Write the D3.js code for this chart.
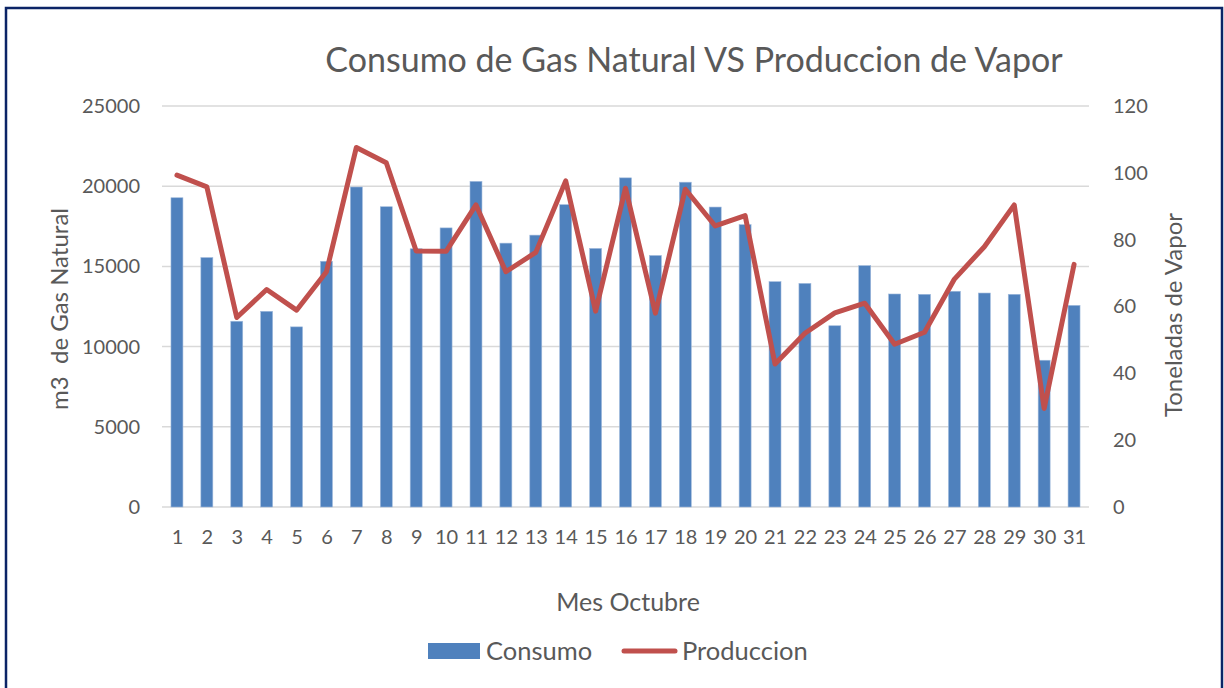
<!DOCTYPE html>
<html><head><meta charset="utf-8">
<script src="https://cdn.jsdelivr.net/npm/d3@7"></script>
<style>
html,body{margin:0;padding:0;background:#fff;}
svg{display:block;font-family:Lato,"Open Sans",sans-serif;}
</style></head>
<body>
<svg id="chart" width="1224" height="688"></svg>
<script>
const days = d3.range(1, 32).map(String);
const consumo = [19280,15550,11580,12200,11230,15320,19950,18720,16100,17400,
  20300,16450,16950,18850,16120,20520,15680,20250,18700,17600,
  14050,13940,11300,15050,13280,13260,13450,13340,13260,9150,12570];
const produccion = [99.3,95.8,56.7,65.1,58.9,70.4,107.6,103.0,76.6,76.5,
  90.4,70.4,76.2,97.6,58.6,95.4,58.0,95.1,84.1,87.2,
  42.8,52.0,58.1,61.0,48.7,52.3,68.2,77.9,90.4,29.5,72.6];
const leftTicks = [0,5000,10000,15000,20000,25000];
const rightTicks = [0,20,40,60,80,100,120];
const seriesNames = ["Consumo","Produccion"];

const svg = d3.select("#chart");
const textColor = "#595959";
const plot = {left:162, right:1089, top:106, bottom:507};

// frame
svg.append("rect").attr("x",6).attr("y",8).attr("width",1216).attr("height",690)
  .attr("fill","#fff").attr("stroke","#0b2466").attr("stroke-width",2.5);

const x = d3.scaleBand().domain(days).range([plot.left, plot.right]).paddingInner(0.6).paddingOuter(0.3);
const xp = d3.scalePoint().domain(days).range([plot.left, plot.right]).padding(0.5);
const yL = d3.scaleLinear().domain([0,25000]).range([plot.bottom, plot.top]);
const yR = d3.scaleLinear().domain([0,120]).range([plot.bottom, plot.top]);

// gridlines
svg.append("g").selectAll("line").data(leftTicks).join("line")
  .attr("x1",plot.left).attr("x2",plot.right)
  .attr("y1",d=>yL(d)).attr("y2",d=>yL(d))
  .attr("stroke","#d9d9d9").attr("stroke-width",1.5);

// left axis
const gL = svg.append("g").attr("transform",`translate(${plot.left},0)`)
  .call(d3.axisLeft(yL).tickValues(leftTicks).tickSize(0).tickPadding(22).tickFormat(d3.format("d")));
gL.select(".domain").remove();
gL.selectAll("text").attr("fill",textColor).style("font-size","20px").style("font-family","Lato");

// right axis
const gR = svg.append("g").attr("transform",`translate(${plot.right},0)`)
  .call(d3.axisRight(yR).tickValues(rightTicks).tickSize(0).tickPadding(24));
gR.select(".domain").remove();
gR.selectAll("text").attr("fill",textColor).style("font-size","20px").style("font-family","Lato");

// bars
svg.append("g").selectAll("rect").data(consumo).join("rect")
  .attr("x",(d,i)=>x(days[i])).attr("width",x.bandwidth())
  .attr("y",d=>yL(d)).attr("height",d=>yL(0)-yL(d))
  .attr("fill","#4f81bd").attr("stroke","#9fb9dc").attr("stroke-width",0.6);

// x axis
const gX = svg.append("g").attr("transform",`translate(0,${plot.bottom})`)
  .call(d3.axisBottom(xp).tickSize(0).tickPadding(23));
gX.select(".domain").remove();
gX.selectAll("text").attr("fill",textColor).style("font-size","20px").style("font-family","Lato");

// line
const line = d3.line().x((d,i)=>xp(days[i])).y(d=>yR(d));
svg.append("path").datum(produccion).attr("d",line)
  .attr("fill","none").attr("stroke","#c0504d").attr("stroke-width",5)
  .attr("stroke-linejoin","round").attr("stroke-linecap","round");

// title
svg.append("text").attr("x",694).attr("y",72).attr("text-anchor","middle")
  .attr("fill",textColor).style("font-size","34px")
  .text("Consumo de Gas Natural VS Produccion de Vapor");

// axis titles
svg.append("text").attr("transform","translate(68,309) rotate(-90)").attr("text-anchor","middle")
  .attr("fill",textColor).style("font-size","24px").attr("xml:space","preserve").text("m3  de Gas Natural");
svg.append("text").attr("transform","translate(1182,315) rotate(-90)").attr("text-anchor","middle")
  .attr("fill",textColor).style("font-size","24px").text("Toneladas de Vapor");
svg.append("text").attr("x",628).attr("y",611).attr("text-anchor","middle")
  .attr("fill",textColor).style("font-size","25px").text("Mes Octubre");

// legend
const lg = svg.append("g");
lg.append("rect").attr("x",428).attr("y",643).attr("width",52).attr("height",16).attr("fill","#4f81bd");
lg.append("text").attr("x",486).attr("y",660).attr("fill",textColor).style("font-size","25.5px").text(seriesNames[0]);
lg.append("line").attr("x1",624).attr("x2",675).attr("y1",651).attr("y2",651)
  .attr("stroke","#c0504d").attr("stroke-width",5).attr("stroke-linecap","round");
lg.append("text").attr("x",682).attr("y",660).attr("fill",textColor).style("font-size","25.5px").text(seriesNames[1]);
</script>
</body></html>
